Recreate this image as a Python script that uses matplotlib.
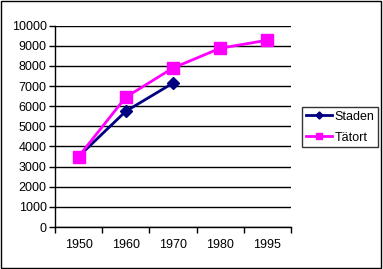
import numpy as np
import matplotlib
matplotlib.use('Agg')
from matplotlib import pyplot as plt
from matplotlib.ticker import FixedLocator, NullFormatter

years = ['1950', '1960', '1970', '1980', '1995']
staden = [3500, 5750, 7150]
tatort = [3500, 6450, 7900, 8880, 9280]

plt.rcParams['font.family'] = ['Liberation Sans', 'DejaVu Sans']
fs = 9

fig = plt.figure(figsize=(3.83, 2.69), dpi=100)
# Outer frame around the whole chart.
fig.patches.append(plt.Rectangle((0.002, 0.004), 0.993, 0.992, transform=fig.transFigure,
                                 fill=False, edgecolor='black', linewidth=1))
ax = fig.add_axes([55 / 383, 1 - 227 / 269, 236 / 383, 201.3 / 269])

x = np.arange(len(years))
ax.plot(x[:len(staden)], staden, color='#000080', linewidth=2, marker='D', markersize=6,
        label='Staden', zorder=3)
ax.plot(x, tatort, color='#FF00FF', linewidth=2, marker='s', markersize=8,
        label='Tätort', zorder=4)

ax.set_xlim(-0.5, len(years) - 0.5)
ax.set_ylim(0, 10000)
ax.set_yticks(np.arange(0, 10001, 1000))
ax.yaxis.grid(True, color='black', linewidth=1)
ax.set_axisbelow(True)

# Category axis: labels at centres, tick marks between categories.
ax.set_xticks(x)
ax.set_xticklabels(years)
ax.xaxis.set_minor_locator(FixedLocator(np.arange(-0.5, len(years), 1)))
ax.xaxis.set_minor_formatter(NullFormatter())
ax.tick_params(axis='x', which='major', length=0, pad=9, labelsize=fs)
ax.tick_params(axis='x', which='minor', length=4, width=1, direction='out')
ax.tick_params(axis='y', length=4, width=1, direction='out', labelsize=fs, pad=2)

for s in ['top', 'right']:
    ax.spines[s].set_visible(False)
for s in ['left', 'bottom']:
    ax.spines[s].set_linewidth(1)

leg = fig.legend(loc='upper left', bbox_to_anchor=(302 / 383, 1 - 107 / 269), fontsize=fs,
                 frameon=True, fancybox=False, edgecolor='black', borderpad=0.3,
                 handlelength=2.1, handletextpad=0.2, labelspacing=0.7, markerscale=0.6,
                 borderaxespad=0)
leg.get_frame().set_linewidth(1)

fig.savefig('out.png', dpi=100)
